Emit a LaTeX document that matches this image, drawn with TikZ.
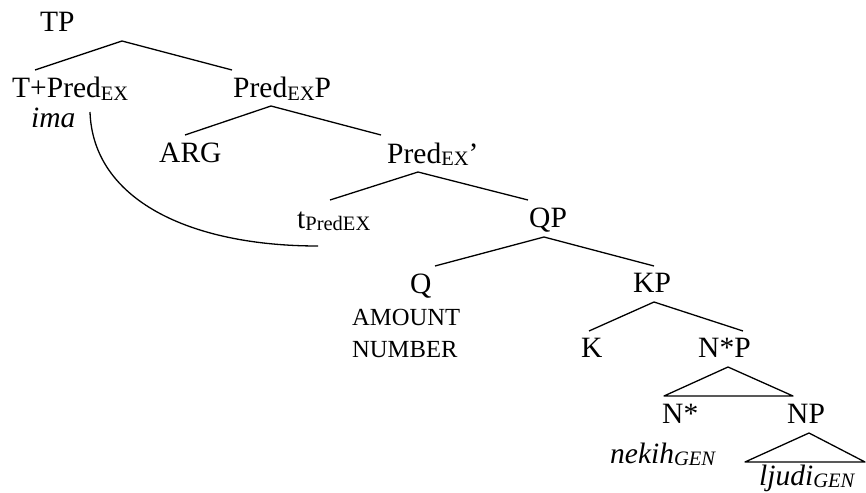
\documentclass[tikz,border=0pt]{standalone}
\usepackage{fontspec}
\setmainfont{Liberation Serif}
\newcommand\subtx[1]{\raisebox{-2.5pt}{\fontsize{20.5}{22}\selectfont #1}}
\begin{document}
\begin{tikzpicture}[x=1pt,y=-1pt,
  lbl/.style={inner sep=0pt, anchor=base west, font=\fontsize{29.5}{31}\selectfont},
  small/.style={inner sep=0pt, anchor=base west, font=\fontsize{24.6}{26}\selectfont},
  branch/.style={line width=1.3pt, line join=round},
  move/.style={line width=1.3pt}]
\useasboundingbox (0,0) rectangle (866,492);

% labels
\node[lbl] (tp) at (40,32) {TP};
\node[lbl] (tpred) at (12,98) {T+Pred\subtx{EX}};
\node[lbl] (ima) at (31,128) {\itshape ima};
\node[lbl] (predp) at (233,98) {Pred\subtx{EX}P};
\node[lbl] (arg) at (159,162) {ARG};
\node[lbl] (predbar) at (387,163) {Pred\subtx{EX}’};
\node[lbl] (trace) at (297,228) {t\subtx{PredEX}};
\node[lbl] (qp) at (529,227) {QP};
\node[lbl] (q) at (410,293) {Q};
\node[small] (amount) at (352,325) {AMOUNT};
\node[small] (number) at (352,357) {NUMBER};
\node[lbl] (kp) at (633,292) {KP};
\node[lbl] (k) at (581,357) {K};
\node[lbl] (nsp) at (698,357) {N*P};
\node[lbl] (ns) at (662,423) {N*};
\node[lbl] (np) at (787,423) {NP};
\node[lbl] (nekih) at (610,463) {\itshape nekih\subtx{GEN}};
\node[lbl] (ljudi) at (759,485) {\itshape ljudi\subtx{GEN}};

% branch points
\coordinate (tpA) at (122,41);  \coordinate (tpL) at (35,70);   \coordinate (tpR) at (232,70);
\coordinate (ppA) at (271,106); \coordinate (ppL) at (185,135); \coordinate (ppR) at (381,135);
\coordinate (pbA) at (418,172); \coordinate (pbL) at (330,200); \coordinate (pbR) at (528,200);
\coordinate (qpA) at (544,237); \coordinate (qpL) at (435,266); \coordinate (qpR) at (654,266);
\coordinate (kpA) at (654,302); \coordinate (kpL) at (589,331); \coordinate (kpR) at (743,331);
\coordinate (nsA) at (728,367); \coordinate (nsL) at (664,396); \coordinate (nsR) at (793,396);
\coordinate (npA) at (809,433); \coordinate (npL) at (745,462); \coordinate (npR) at (865,462);
\coordinate (mvS) at (90,112);  \coordinate (mvE) at (318,246);

% tree branches
\draw[branch] (tpL) -- (tpA) -- (tpR);
\draw[branch] (ppL) -- (ppA) -- (ppR);
\draw[branch] (pbL) -- (pbA) -- (pbR);
\draw[branch] (qpL) -- (qpA) -- (qpR);
\draw[branch] (kpL) -- (kpA) -- (kpR);
\draw[branch] (nsL) -- (nsA) -- (nsR) -- cycle;
\draw[branch] (npL) -- (npA) -- (npR) -- cycle;

% head movement
\draw[move] (mvS) .. controls (93,200) and (190,246) .. (mvE);
\end{tikzpicture}
\end{document}
